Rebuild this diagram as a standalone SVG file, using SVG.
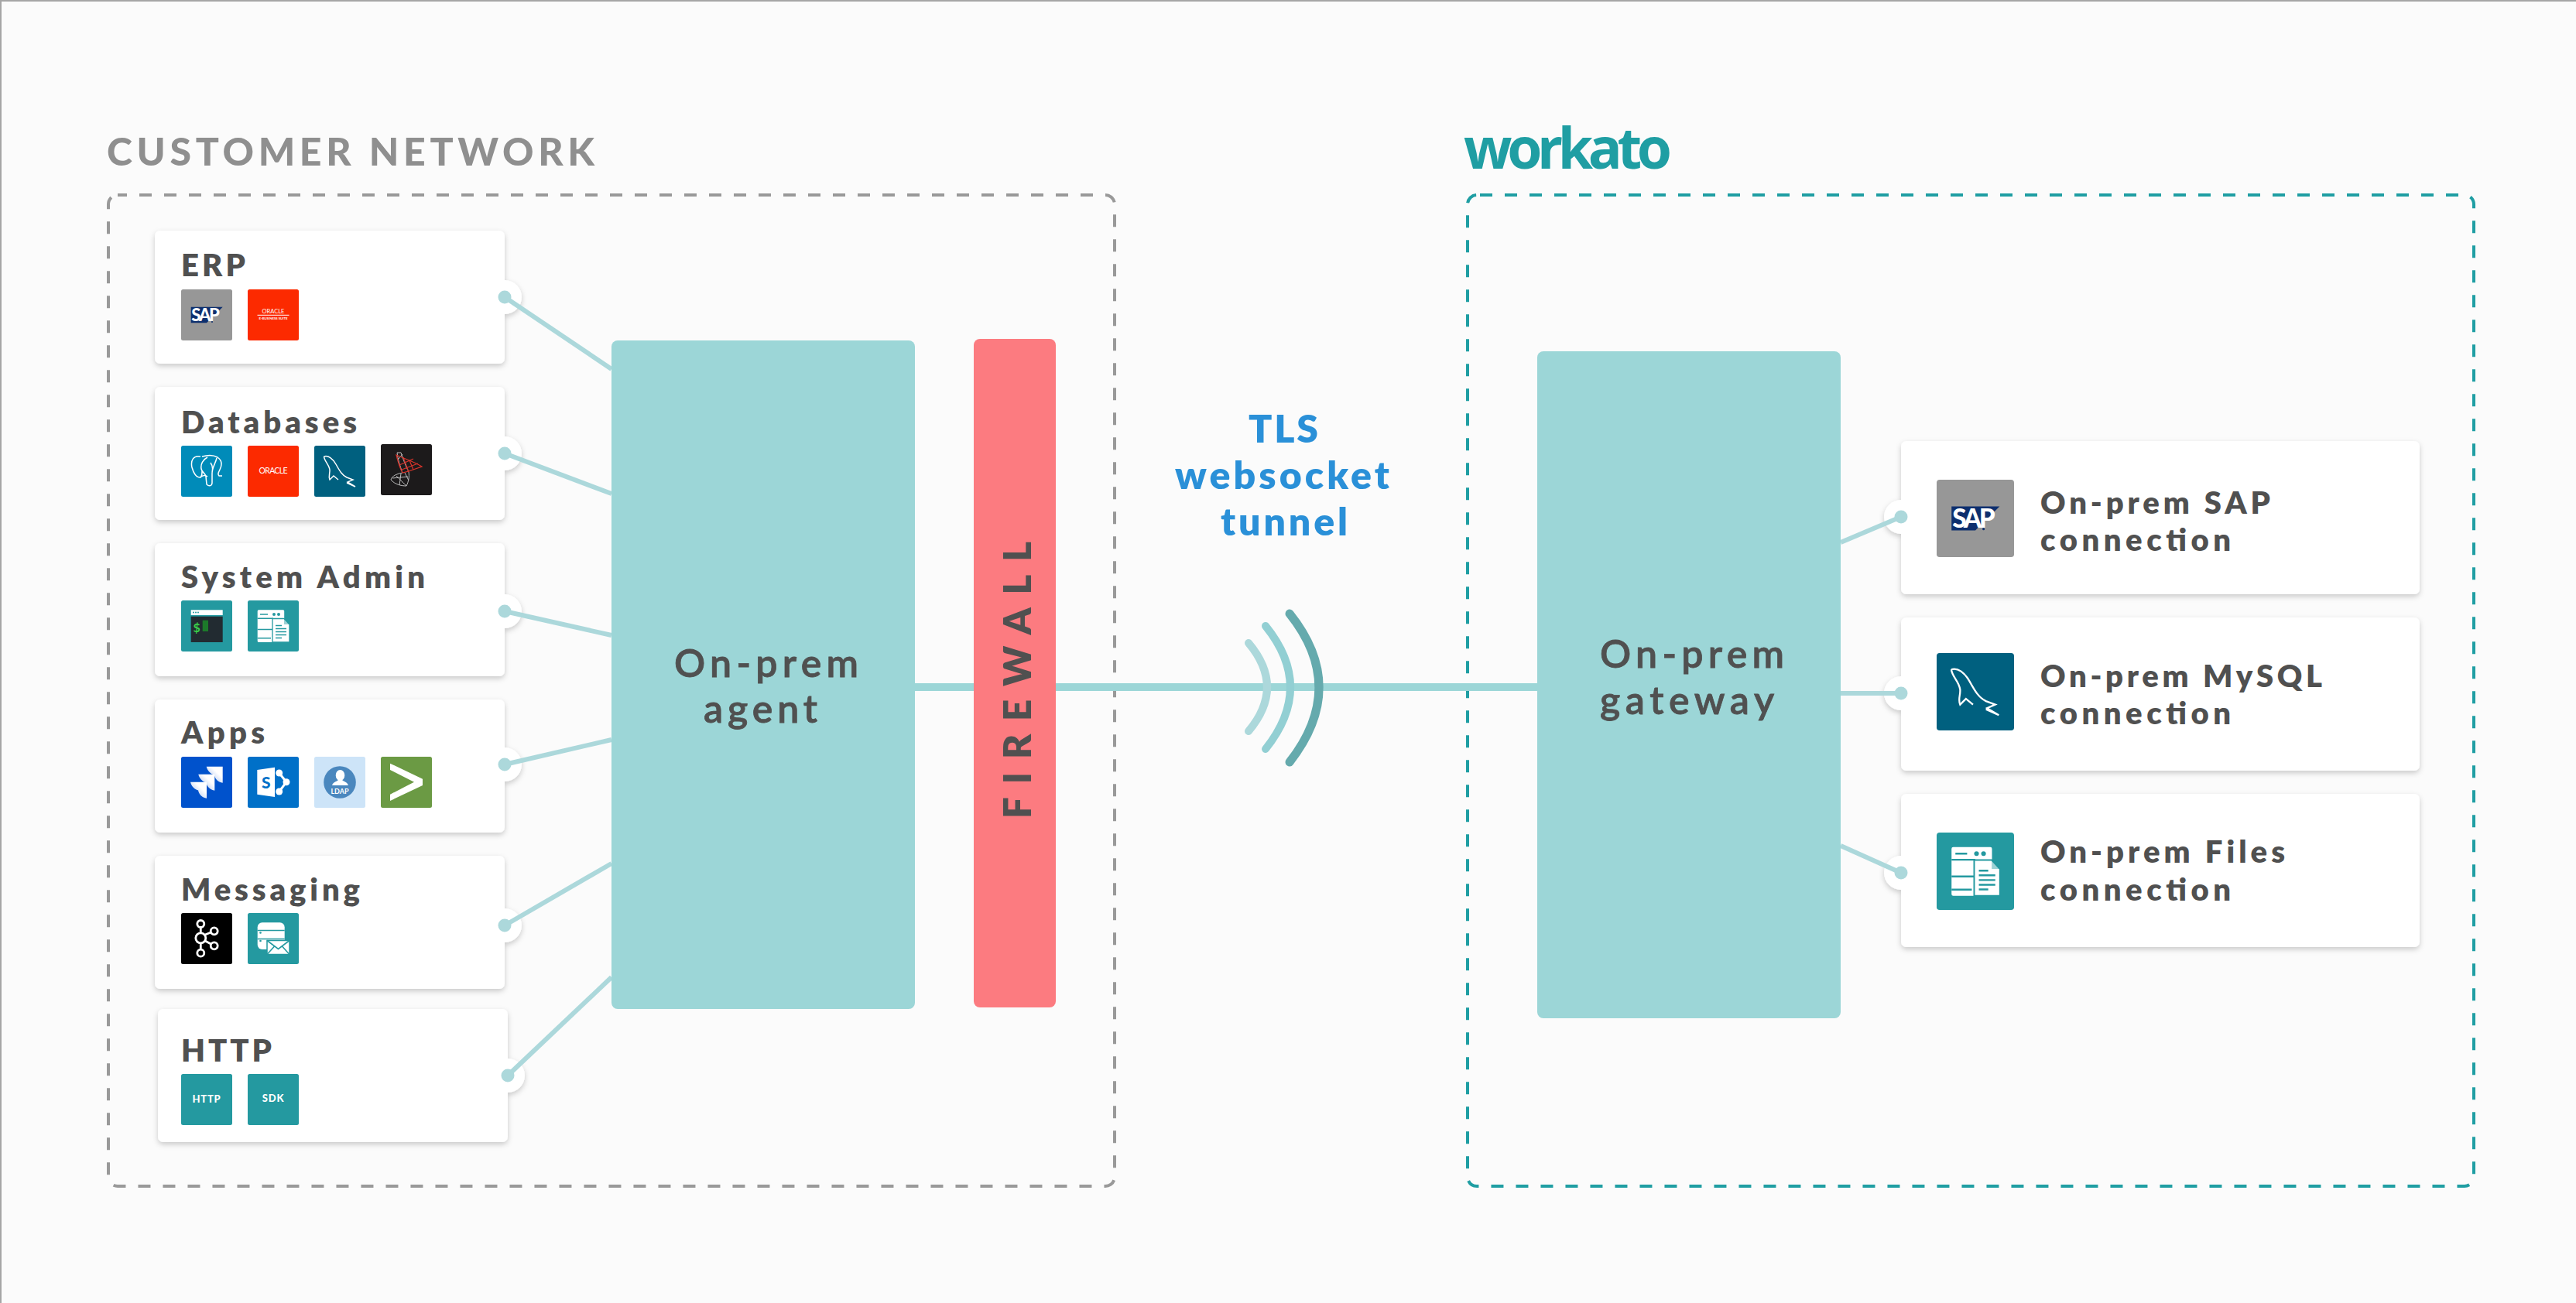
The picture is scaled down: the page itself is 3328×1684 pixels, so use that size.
<svg xmlns="http://www.w3.org/2000/svg" width="3328" height="1684" viewBox="0 0 3328 1684">
<style>
text{font-family:"Lato","Liberation Sans",sans-serif}
.h{font-size:40px;font-weight:800;fill:#505050}
.b{font-size:50px;font-weight:600;fill:#505050;stroke:#505050;stroke-width:.8px}
.t{font-size:50px;font-weight:800;fill:#2a90d8}
.tl{stroke:#acd8db;stroke-width:6;fill:none}
.dot{fill:#acd8db}
.card{fill:#fff}
.ar{fill:none;stroke-linecap:round}
.wl{stroke:#fff;fill:none}
.tln{stroke:#2499a0;stroke-width:1.6;fill:none}
</style>
<defs>
<filter id="sh" x="-10%" y="-10%" width="120%" height="125%"><feDropShadow dx="0" dy="3" stdDeviation="3.5" flood-color="#000" flood-opacity=".2"/></filter>
<linearGradient id="jg" x1="1" y1="0" x2="0" y2="1"><stop offset=".35" stop-color="#fff"/><stop offset="1" stop-color="#8fb0ea"/></linearGradient>
<path id="jc" d="M0 0H21V21C15 20 11 16 10 10.500H9C5 9 1 5 0 0Z" fill="url(#jg)"/>
<g id="i-sap"><rect width="66" height="66" rx="2.5" fill="#979797"/><path d="M12.7 22.7H53.7L33 43.3H12.7Z" fill="#0d2f6e"/><text x="13.3" y="41" font-size="22" font-weight="900" letter-spacing="-2.2" fill="#fff">SAP</text><circle cx="40" cy="42" r="1" fill="#0d2f6e"/></g>
<g id="i-ebs"><rect width="66" height="66" rx="2.5" fill="#fc2a00"/><text x="33" y="31" font-size="7.5" text-anchor="middle" fill="#fff">ORACLE</text><rect x="12.5" y="32.8" width="41" height="1" fill="#fff"/><text x="33" y="38.6" font-size="4.3" font-weight="700" text-anchor="middle" fill="#fff">E-BUSINESS SUITE</text></g>
<g id="i-pg"><rect width="66" height="66" rx="2.5" fill="#008bb9"/><path class="wl" stroke-width="1.5" d="M25 14C16 12 12 19 14 28C16 36 20 41 24 41C27 41 27 37 27 33M27 14C34 12 42 12 47 15C53 19 53 25 50 31C48 35 47 37 49 39L53 39M34 15C28 18 25 24 26 30C27 35 32 36 32 40L33 50C36 53 40 52 40 48L40 36C40 28 44 24 46 16M26 40C29 38 32 38 34 40M38 22C41 26 41 30 40 34"/></g>
<g id="i-ora"><rect width="66" height="66" rx="2.5" fill="#fc2a00"/><text x="33" y="36" font-size="10.5" text-anchor="middle" textLength="37" fill="#fff">ORACLE</text></g>
<g id="i-my"><rect width="66" height="66" rx="2.5" fill="#00607f"/><path class="wl" stroke-width="1.5" d="M12.500 14C18 12 24 17 28 24C33 33 36 38 42 41L50 44L43 47L53 53L42 48M12.500 14C13 20 19 24 20 31C20.500 36 18 39 20 44L25 39L31 44"/></g>
<g id="i-ms"><rect width="66" height="66" rx="2.500" fill="#1c1a1b"/><g fill="none" stroke="#bdbdbd" stroke-width="1"><path d="M21 11L26 11C29 20 32 28 36 36C37 42 36 48 33 54C26 54 18 52 13 46C14 41 22 38 28 37C25 29 22 20 21 11Z"/><path d="M15 44L35 42M20 41L33 54M26 38L24 53M31 37L36 47M23 19L28 13"/></g><g fill="none" stroke="#d9342b" stroke-width="1.200"><path d="M20 14C28 18 42 22 53 29L36 35L28 37C24 30 22 22 20 14Z"/><path d="M24 27L42 19M27 33L48 25M29 17L36 36M37 21L42 33"/></g></g>
<g id="i-jira"><rect width="66" height="66" rx="2.500" fill="#0052cc"/><use href="#jc" x="32.700" y="12.700"/><use href="#jc" x="22.300" y="22.700"/><use href="#jc" x="12" y="32.700"/></g>
<g id="i-sp"><rect width="66" height="66" rx="2.500" fill="#0070c8"/><path d="M12.300 17L35 13.700V52L12.300 48.700Z" fill="#fff"/><text x="18" y="41" font-size="21" font-weight="900" fill="#0070c8">S</text><path class="wl" stroke-width="3" d="M40.700 21L50 32.700L40.700 45"/><circle cx="40.700" cy="21" r="4.500" fill="#fff"/><circle cx="50" cy="32.700" r="4.500" fill="#fff"/><circle cx="40.700" cy="45" r="4.500" fill="#fff"/></g>
<g id="i-ldap"><rect width="66" height="66" rx="2.500" fill="#cde4f8"/><circle cx="33" cy="33" r="20.800" fill="#4a87be"/><ellipse cx="33.500" cy="24" rx="5.800" ry="7" fill="#fff"/><path d="M23 37C24 33 29 32 31 30H36C38 32 43 33 44 37Z" fill="#fff"/><text x="33" y="47.500" font-size="9" font-weight="700" text-anchor="middle" fill="#fff">LDAP</text></g>
<g id="i-gt"><rect width="66" height="66" rx="2.500" fill="#6b9a44"/><path d="M12 8.700L54 28.700V37L12 57V48.700L43 32.700L12 17Z" fill="#fff"/></g>
<g id="i-term"><rect width="66" height="66" rx="2.500" fill="#2499a0"/><rect x="12.700" y="12.300" width="41" height="6.700" fill="#fff"/><g fill="#2499a0"><circle cx="16" cy="15.600" r="1"/><circle cx="19" cy="15.600" r="1"/><circle cx="22" cy="15.600" r="1"/></g><rect x="12.700" y="20.700" width="41" height="33.300" fill="#222b31"/><text x="15.500" y="41" font-size="16" font-weight="700" fill="#3ad14a">$</text><rect x="27.700" y="25.700" width="7.300" height="14.300" fill="#1c7a2a"/></g>
<g id="i-file"><rect width="66" height="66" rx="2.500" fill="#2499a0"/><rect x="12.700" y="12.300" width="34.500" height="41.700" rx="1.500" fill="#fff"/><path class="tln" d="M12.700 23.200H33M12.700 37.500H33M12.700 48.700H30M16 18H26"/><circle cx="34" cy="18" r="2" fill="#2499a0"/><circle cx="40" cy="18" r="2" fill="#2499a0"/><path d="M32 23.500H47L54 31V54H32Z" fill="#fff" stroke="#2499a0" stroke-width="1.300"/><path d="M47 23.500V31H54" fill="#2499a0" fill-opacity=".45"/><path class="tln" d="M36 32.500H44M36 36.500H50M36 40.500H50M36 44.500H50M36 48.500H44"/></g>
<g id="i-kafka"><rect width="66" height="66" rx="2.500" fill="#000"/><g class="wl" stroke-width="2.800"><path d="M25.300 18V26M25.300 39V47M31 28L38.500 25M31 36L38.500 40"/><circle cx="25.300" cy="14" r="4.500"/><circle cx="25.300" cy="32.300" r="6.500"/><circle cx="25.300" cy="51.700" r="4.500"/><circle cx="42.700" cy="23.300" r="4.500"/><circle cx="42.700" cy="42.300" r="4.500"/></g></g>
<g id="i-mail"><rect width="66" height="66" rx="2.500" fill="#2499a0"/><rect x="12.700" y="12.300" width="35" height="34.700" rx="6" fill="#fff"/><path d="M12.700 22.500H47.700M12.700 33.500H47.700" stroke="#2499a0" stroke-width="1.600"/><circle cx="16.500" cy="25.500" r="1.300" fill="#2499a0"/><circle cx="16.500" cy="36" r="1.300" fill="#2499a0"/><path d="M25 35.500H54V53.500H25Z" fill="#fff" stroke="#2499a0" stroke-width="1.500"/><path d="M25 35.500L39.500 46.500L54 35.500M25 53.500L34.500 43M54 53.500L44.500 43" fill="none" stroke="#2499a0" stroke-width="1.600"/></g>
<g id="i-http"><rect width="66" height="66" rx="2.500" fill="#2499a0"/><text x="33" y="37" font-size="13" font-weight="900" text-anchor="middle" letter-spacing=".8" fill="#fff">HTTP</text></g>
<g id="i-sdk"><rect width="66" height="66" rx="2.500" fill="#2499a0"/><text x="33" y="36" font-size="13" font-weight="900" text-anchor="middle" letter-spacing=".8" fill="#fff">SDK</text></g>
</defs>

<rect width="3328" height="1684" fill="#fbfbfb"/>
<path d="M0 1H3328M1 0V1684" stroke="#a6a6a6" stroke-width="2" fill="none"/>

<g id="customer-network">
<rect x="140" y="252" width="1300" height="1281" rx="12" fill="none" stroke="#999" stroke-width="4" stroke-dasharray="16 16" stroke-dashoffset="4"/>
<text x="138" y="214" font-size="50" font-weight="900" fill="#8f8f8f" textLength="630">CUSTOMER NETWORK</text>
</g>
<g id="workato">
<rect x="1896" y="252" width="1300" height="1281" rx="12" fill="none" stroke="#1f9ea3" stroke-width="4" stroke-dasharray="16 16" stroke-dashoffset="-4"/>
<text x="1891" y="218" font-size="73" font-weight="700" fill="#1f9ea3" style="font-family:'Open Sans',sans-serif" textLength="269">workato</text>
</g>

<g id="card-erp"><g filter="url(#sh)"><rect class="card" x="200" y="298" width="452" height="172" rx="7"/><circle class="card" cx="652" cy="384" r="22"/></g><text class="h" x="234" y="357" textLength="83">ERP</text><use href="#i-sap" x="234" y="374"/><use href="#i-ebs" x="320" y="374"/></g>
<g id="card-databases"><g filter="url(#sh)"><rect class="card" x="200" y="500" width="452" height="172" rx="7"/><circle class="card" cx="652" cy="586" r="22"/></g><text class="h" x="234" y="560" textLength="227">Databases</text><use href="#i-pg" x="234" y="576"/><use href="#i-ora" x="320" y="576"/><use href="#i-my" x="406" y="576"/><use href="#i-ms" x="492" y="574"/></g>
<g id="card-system-admin"><g filter="url(#sh)"><rect class="card" x="200" y="702" width="452" height="172" rx="7"/><circle class="card" cx="652" cy="790" r="22"/></g><text class="h" x="234" y="760" textLength="315">System Admin</text><use href="#i-term" x="234" y="776"/><use href="#i-file" x="320" y="776"/></g>
<g id="card-apps"><g filter="url(#sh)"><rect class="card" x="200" y="904" width="452" height="172" rx="7"/><circle class="card" cx="652" cy="988" r="22"/></g><text class="h" x="234" y="961" textLength="108">Apps</text><use href="#i-jira" x="234" y="978"/><use href="#i-sp" x="320" y="978"/><use href="#i-ldap" x="406" y="978"/><use href="#i-gt" x="492" y="978"/></g>
<g id="card-messaging"><g filter="url(#sh)"><rect class="card" x="200" y="1106" width="452" height="172" rx="7"/><circle class="card" cx="652" cy="1196" r="22"/></g><text class="h" x="234" y="1164" textLength="231">Messaging</text><use href="#i-kafka" x="234" y="1180"/><use href="#i-mail" x="320" y="1180"/></g>
<g id="card-http"><g filter="url(#sh)"><rect class="card" x="204" y="1304" width="452" height="172" rx="7"/><circle class="card" cx="656" cy="1390" r="22"/></g><text class="h" x="234" y="1372" textLength="117">HTTP</text><use href="#i-http" x="234" y="1388"/><use href="#i-sdk" x="320" y="1388"/></g>

<g id="card-sap"><g filter="url(#sh)"><rect class="card" x="2456" y="570" width="670" height="198" rx="7"/><circle class="card" cx="2456" cy="668" r="22"/></g><use href="#i-sap" transform="translate(2502 620) scale(1.515)"/><text class="h" x="2636" y="664" textLength="297">On-prem SAP</text><text class="h" x="2636" y="712" textLength="246">connection</text></g>
<g id="card-mysql"><g filter="url(#sh)"><rect class="card" x="2456" y="798" width="670" height="198" rx="7"/><circle class="card" cx="2456" cy="896" r="22"/></g><use href="#i-my" transform="translate(2502 844) scale(1.515)"/><text class="h" x="2636" y="888" textLength="364">On-prem MySQL</text><text class="h" x="2636" y="936" textLength="246">connection</text></g>
<g id="card-files"><g filter="url(#sh)"><rect class="card" x="2456" y="1026" width="670" height="198" rx="7"/><circle class="card" cx="2456" cy="1128" r="22"/></g><use href="#i-file" transform="translate(2502 1076) scale(1.515)"/><text class="h" x="2636" y="1115" textLength="316">On-prem Files</text><text class="h" x="2636" y="1164" textLength="246">connection</text></g>

<g id="connectors">
<line x1="1182" y1="888" x2="1986" y2="888" stroke="#9cd6d7" stroke-width="10"/>
<g class="tl">
<line x1="652" y1="384" x2="790" y2="477"/>
<line x1="652" y1="586" x2="790" y2="638"/>
<line x1="652" y1="790" x2="790" y2="821"/>
<line x1="652" y1="988" x2="790" y2="956"/>
<line x1="652" y1="1196" x2="790" y2="1116"/>
<line x1="656" y1="1390" x2="790" y2="1263"/>
<line x1="2378" y1="701" x2="2456" y2="668"/>
<line x1="2378" y1="896" x2="2456" y2="896"/>
<line x1="2378" y1="1093" x2="2456" y2="1128"/>
</g>
<g class="dot">
<circle cx="652" cy="384" r="8.500"/><circle cx="652" cy="586" r="8.500"/><circle cx="652" cy="790" r="8.500"/><circle cx="652" cy="988" r="8.500"/><circle cx="652" cy="1196" r="8.500"/><circle cx="656" cy="1390" r="8.500"/>
<circle cx="2456" cy="668" r="8.500"/><circle cx="2456" cy="896" r="8.500"/><circle cx="2456" cy="1128" r="8.500"/>
</g>
</g>

<g id="on-prem-agent"><rect x="790" y="440" width="392" height="864" rx="8" fill="#9cd6d7"/><text class="b" x="871" y="875" textLength="238">On-prem</text><text class="b" x="909" y="934" textLength="147">agent</text></g>
<g id="firewall"><rect x="1258" y="438" width="106" height="864" rx="8" fill="#fc7b80"/><text transform="translate(1332 1058) rotate(-90)" font-size="49" font-weight="800" fill="#505050" textLength="358">FIREWALL</text></g>
<g id="on-prem-gateway"><rect x="1986" y="454" width="392" height="862" rx="8" fill="#9cd6d7"/><text class="b" x="2067" y="863" textLength="238">On-prem</text><text class="b" x="2067" y="923" textLength="225">gateway</text></g>

<g id="tunnel">
<path class="ar" d="M1613 831Q1661 888 1613 945" stroke="#acd8db" stroke-width="10"/>
<path class="ar" d="M1635 809Q1699 888 1635 968" stroke="#92cfd3" stroke-width="10"/>
<path class="ar" d="M1666 793Q1742 888 1666 985" stroke="#65aaad" stroke-width="11"/>
<text class="t" x="1613" y="572" textLength="90">TLS</text>
<text class="t" x="1518" y="632" textLength="277">websocket</text>
<text class="t" x="1577" y="692" textLength="164">tunnel</text>
</g>
</svg>
